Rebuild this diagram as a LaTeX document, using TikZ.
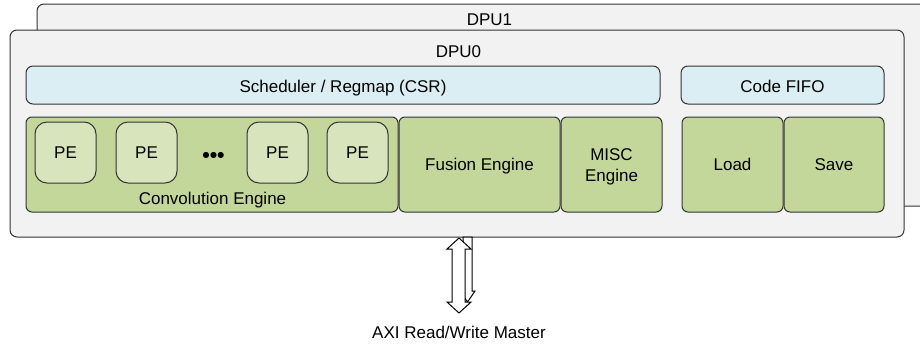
\documentclass[tikz,border=0pt]{standalone}
\usepackage{fontspec}
\setmainfont{Liberation Sans}
\usetikzlibrary{fit,calc}
\definecolor{dpufill}{HTML}{F2F2F2}
\definecolor{bluefill}{HTML}{DAEEF3}
\definecolor{greenfill}{HTML}{C4D79B}
\definecolor{pefill}{HTML}{D8E4BC}
\definecolor{edge}{HTML}{333333}
\begin{document}
\begin{tikzpicture}[x=0.75pt,y=-0.75pt,
  every node/.style={font=\fontsize{12.75}{15.3}\selectfont, text=black},
  frame/.style={draw=edge, line width=0.75pt, inner sep=0pt, outer sep=0pt},
  dpubox/.style={frame, fill=dpufill, rounded corners=5.25pt},
  bluebox/.style={frame, fill=bluefill, rounded corners=5.25pt},
  greenbox/.style={frame, fill=greenfill, rounded corners=4.5pt},
  pebox/.style={frame, fill=pefill, rounded corners=9pt},
  lbl/.style={anchor=base, inner sep=0pt},
  blockarrow/.style={draw=black, line width=0.75pt, fill=white, line join=miter},
]
\useasboundingbox (0,0) rectangle (920,350);
\fill[white] (0,0) rectangle (920,350);
% DPU1 (extends beyond the right edge)
\begin{scope}
  \clip (0,0) rectangle (920,350);
  \node[dpubox, fit={(37,4) (942,206)}] (dpu1) {};
\end{scope}
\node[lbl] (dpu1lbl) at (489.5,25) {DPU1};
% DPU0
\node[dpubox, fit={(10,30) (904,237)}] (dpu0) {};
\node[lbl] (dpu0lbl) at (458.5,57) {DPU0};
% top row
\node[bluebox, fit={(26,66) (660,104)}] (sched) {};
\node[lbl] at ($(sched.center)+(0,7)$) {Scheduler / Regmap (CSR)};
\node[bluebox, fit={(681,66) (884,104)}] (fifo) {};
\node[lbl] at ($(fifo.center)+(0,7)$) {Code FIFO};
% engines
\node[greenbox, fit={(26,117) (398,212)}] (conv) {};
\node[lbl] (convlbl) at (212.5,204) {Convolution Engine};
\node[greenbox, fit={(399,117) (560,212)}] (fusion) {};
\node[lbl] at ($(fusion.center)+(0,6)$) {Fusion Engine};
\node[greenbox, fit={(561,117) (662,212)}] (misc) {};
\node[lbl] at ($(misc.center)+(0,-4.5)$) {MISC};
\node[lbl] at ($(misc.center)+(0,16.5)$) {Engine};
\node[greenbox, fit={(682,117) (783,212)}] (load) {};
\node[lbl] at ($(load.center)+(0,6)$) {Load};
\node[greenbox, fit={(784,117) (884,212)}] (save) {};
\node[lbl] at ($(save.center)+(0,6)$) {Save};
% PEs
\node[pebox, fit={(35,122) (96,183)}] (pe1) {};
\node[pebox, fit={(116,122) (177,183)}] (pe2) {};
\node[pebox, fit={(247,122) (308,183)}] (pe3) {};
\node[pebox, fit={(327,122) (388,183)}] (pe4) {};
\foreach \p in {pe1,pe2,pe3,pe4}{
  \node[lbl] at ($(\p.center)+(0,6)$) {PE};
}
\node[lbl, font=\fontsize{16}{16}\selectfont\bfseries] (dots) at (213.5,162) {•••};
% AXI block arrows
\coordinate (axtop) at (dpu0.south);
\draw[blockarrow] (463,237) -- (472,237) -- (472,291) -- (475,291)
  -- (467.5,302) -- (460,291) -- (463,291) -- cycle;
\draw[blockarrow] (459,238) -- (471,249) -- (465,249) -- (465,302)
  -- (471,302) -- (459,313) -- (447,302) -- (452,302) -- (452,249)
  -- (447,249) -- cycle;
\node[lbl] (axi) at (459,338) {AXI Read/Write Master};
\end{tikzpicture}
\end{document}
